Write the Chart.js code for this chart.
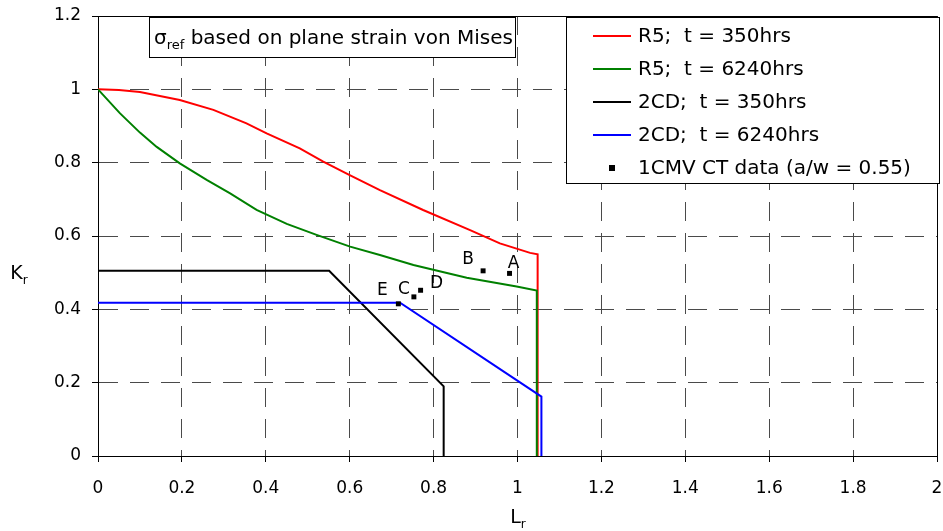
<!DOCTYPE html>
<html>
<head>
<meta charset="utf-8">
<script src="https://cdn.jsdelivr.net/npm/chart.js@4.4.1/dist/chart.umd.min.js"></script>
<style>
  html, body { margin: 0; padding: 0; background: #fff; }
  #wrap { width: 943px; height: 531px; }
</style>
</head>
<body>
<div id="wrap"><canvas id="fad" width="943" height="531"></canvas></div>
<script>
// R5 assessment curves (Lr, Kr)
const r5_350_x  = [0, 0.05, 0.1, 0.195, 0.275, 0.354, 0.402, 0.481, 0.537, 0.6, 0.672, 0.775, 0.887, 0.958, 1.03, 1.048, 1.048];
const r5_350_y  = [1.0, 0.998, 0.993, 0.971, 0.944, 0.907, 0.88, 0.839, 0.803, 0.766, 0.725, 0.671, 0.616, 0.58, 0.554, 0.55, 0];
const r5_6240_x = [0, 0.052, 0.1, 0.14, 0.195, 0.259, 0.315, 0.378, 0.45, 0.521, 0.601, 0.672, 0.752, 0.879, 0.998, 1.046, 1.046];
const r5_6240_y = [1.0, 0.935, 0.882, 0.843, 0.798, 0.753, 0.716, 0.671, 0.633, 0.603, 0.571, 0.548, 0.521, 0.486, 0.462, 0.451, 0];

// 2CD curves
const cd_350_x  = [0, 0.551, 0.824, 0.824];
const cd_350_y  = [0.505, 0.505, 0.19, 0];
const cd_6240_x = [0, 0.72, 1.057, 1.057];
const cd_6240_y = [0.418, 0.418, 0.162, 0];

// 1CMV CT test points
const ct_labels = ['E', 'C', 'D', 'B', 'A'];
const ct_x      = [0.716, 0.753, 0.769, 0.918, 0.981];
const ct_y      = [0.415, 0.434, 0.452, 0.505, 0.498];
// label offsets from each point, px
const ct_dx     = [-16, -10, 16, -15, 4];
const ct_dy     = [-13, -7, -7, -11, -10];

const xTicks = { min: 0, max: 2, step: 0.2 };
const yTicks = { min: 0, max: 1.2, step: 0.2 };

const FONT = '"DejaVu Sans", sans-serif';

function pts(xs, ys) {
    return xs.map((x, i) => ({ x, y: ys[i] }));
}

function curve(label, xs, ys, color, order) {
    return {
        type: 'line',
        label,
        data: pts(xs, ys),
        borderColor: color,
        backgroundColor: color,
        borderWidth: 2,
        pointRadius: 0,
        tension: 0,
        fill: false,
        order,
    };
}

const legendItems = [
    { text: 'R5;  t = 350hrs',  color: '#ff0000' },
    { text: 'R5;  t = 6240hrs', color: '#008000' },
    { text: '2CD;  t = 350hrs', color: '#000000' },
    { text: '2CD;  t = 6240hrs', color: '#0000ff' },
    { text: '1CMV CT data (a/w = 0.55)', color: '#000000', marker: true },
];

// text with a subscript run, e.g. K + r
function subText(ctx, main, sub, x, y, size, align) {
    ctx.font = size + 'px ' + FONT;
    const w1 = ctx.measureText(main).width;
    ctx.font = Math.round(size * 0.65) + 'px ' + FONT;
    const w2 = ctx.measureText(sub).width;
    let x0 = x;
    if (align === 'center') x0 = x - (w1 + w2) / 2;
    ctx.textAlign = 'left';
    ctx.textBaseline = 'alphabetic';
    ctx.font = size + 'px ' + FONT;
    ctx.fillText(main, x0, y);
    ctx.font = Math.round(size * 0.65) + 'px ' + FONT;
    ctx.fillText(sub, x0 + w1, y + size * 0.25);
    return x0 + w1 + w2;
}

const overlay = {
    id: 'overlay',
    afterDraw(chart) {
        const { ctx, chartArea: a, scales } = chart;
        ctx.save();

        // frame
        ctx.strokeStyle = '#000';
        ctx.lineWidth = 1;
        ctx.setLineDash([]);
        ctx.beginPath();
        ctx.moveTo(a.left, a.top + 0.5);
        ctx.lineTo(a.right + 0.5, a.top + 0.5);
        ctx.lineTo(a.right + 0.5, a.bottom);
        ctx.stroke();

        ctx.fillStyle = '#000';

        // point letters
        ctx.font = '17px ' + FONT;
        ctx.textAlign = 'center';
        ctx.textBaseline = 'middle';
        ct_labels.forEach((t, i) => {
            const px = scales.x.getPixelForValue(ct_x[i]);
            const py = scales.y.getPixelForValue(ct_y[i]);
            ctx.fillText(t, px + ct_dx[i], py + ct_dy[i]);
        });

        // axis titles
        subText(ctx, 'K', 'r', 19, 279, 19, 'center');
        subText(ctx, 'L', 'r', 518, 523, 19, 'center');

        // note box
        ctx.fillStyle = '#fff';
        ctx.fillRect(149.5, 17.5, 366, 40);
        ctx.strokeStyle = '#000';
        ctx.strokeRect(149.5, 17.5, 366, 40);
        ctx.fillStyle = '#000';
        const end = subText(ctx, 'σ', 'ref', 154, 44, 20, 'left');
        ctx.font = '20px ' + FONT;
        ctx.fillText(' based on plane strain von Mises', end, 44);

        // legend box
        ctx.fillStyle = '#fff';
        ctx.fillRect(566.5, 17.5, 373, 166);
        ctx.strokeRect(566.5, 17.5, 373, 166);
        ctx.font = '20px ' + FONT;
        ctx.textBaseline = 'middle';
        ctx.textAlign = 'left';
        legendItems.forEach((it, i) => {
            const y = 36 + i * 33;
            if (it.marker) {
                ctx.fillStyle = it.color;
                ctx.fillRect(609, y - 3, 6, 6);
            } else {
                ctx.strokeStyle = it.color;
                ctx.lineWidth = 2;
                ctx.beginPath();
                ctx.moveTo(593, y);
                ctx.lineTo(631, y);
                ctx.stroke();
            }
            ctx.fillStyle = '#000';
            ctx.fillText(it.text, 638, y + 1);
        });

        ctx.restore();
    },
};

function axis(t, size) {
    return {
        type: 'linear',
        min: t.min,
        max: t.max,
        grid: {
            color: '#4a4a4a',
            lineWidth: 1,
            tickLength: 6,
            tickColor: '#000',
        },
        border: { display: true, color: '#000', width: 1, dash: [19, 12] },
        ticks: {
            stepSize: t.step,
            color: '#000',
            font: { family: FONT, size },
            callback: v => String(+v.toFixed(1)),
        },
    };
}

const xAxis = axis(xTicks, 17);
xAxis.ticks.padding = 16;
xAxis.ticks.maxRotation = 0;
xAxis.afterFit = s => { s.height = 75; s.paddingLeft = 0; s.paddingRight = 0; };

const yAxis = axis(yTicks, 17);
yAxis.ticks.padding = 11;
yAxis.afterFit = s => { s.width = 98; s.paddingTop = 0; s.paddingBottom = 0; };

new Chart(document.getElementById('fad'), {
    data: {
        datasets: [
            {
                type: 'scatter',
                label: '1CMV CT data (a/w = 0.55)',
                data: pts(ct_x, ct_y),
                pointStyle: 'rect',
                pointRadius: 3.5,
                backgroundColor: '#000',
                borderColor: '#000',
                borderWidth: 0,
                order: 0,
            },
            curve('2CD;  t = 6240hrs', cd_6240_x, cd_6240_y, '#0000ff', 1),
            curve('2CD;  t = 350hrs',  cd_350_x,  cd_350_y,  '#000000', 2),
            curve('R5;  t = 6240hrs',  r5_6240_x, r5_6240_y, '#008000', 3),
            curve('R5;  t = 350hrs',   r5_350_x,  r5_350_y,  '#ff0000', 4),
        ],
    },
    options: {
        responsive: false,
        animation: false,
        devicePixelRatio: 1,
        layout: { padding: { top: 16, right: 6, left: 0, bottom: 0 } },
        plugins: {
            legend: { display: false },
            tooltip: { enabled: false },
        },
        scales: { x: xAxis, y: yAxis },
    },
    plugins: [overlay],
});
</script>
</body>
</html>
